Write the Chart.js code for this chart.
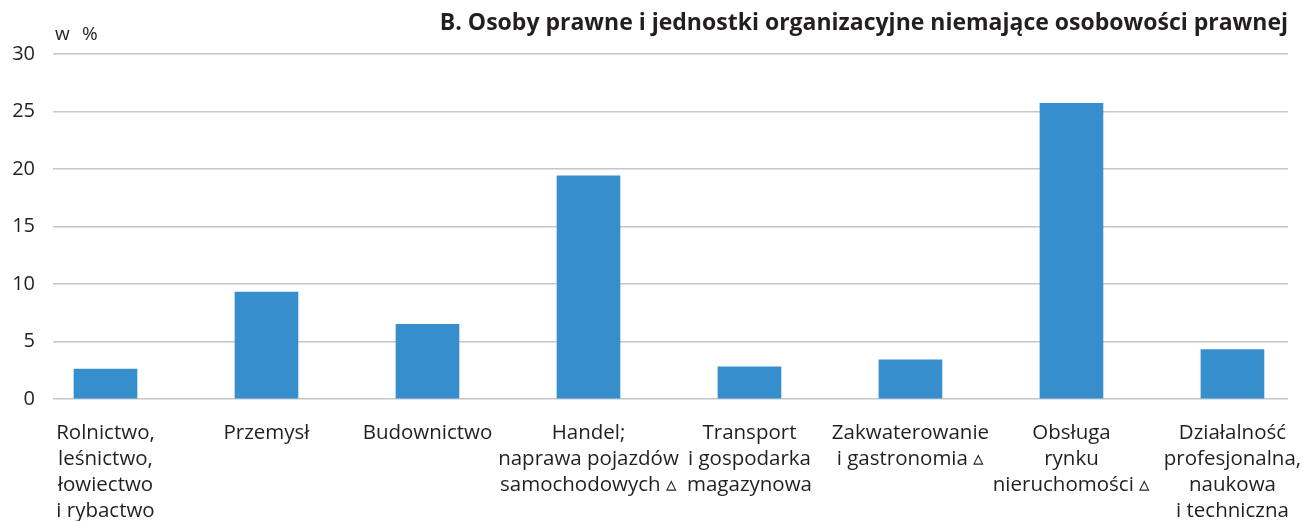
<!DOCTYPE html>
<html>
<head>
<meta charset="utf-8">
<script src="https://cdn.jsdelivr.net/npm/chart.js@4/dist/chart.umd.min.js"></script>
<style>
  html, body { margin: 0; padding: 0; background: #ffffff; }
  #wrap { width: 1303px; height: 521px; position: relative; }
</style>
</head>
<body>
<div id="wrap"><canvas id="c"></canvas></div>
<script>
const chartTitle = "B. Osoby prawne i jednostki organizacyjne niemające osobowości prawnej";
const unitLabel = ["w", "%"];
const categories = [
  ["Rolnictwo,", "leśnictwo,", "łowiectwo", "i rybactwo"],
  ["Przemysł"],
  ["Budownictwo"],
  ["Handel;", "naprawa pojazdów", "samochodowych \u25B5"],
  ["Transport", "i gospodarka", "magazynowa"],
  ["Zakwaterowanie", "i gastronomia \u25B5"],
  ["Obsługa", "rynku", "nieruchomości \u25B5"],
  ["Działalność", "profesjonalna,", "naukowa", "i techniczna"]
];
const values = [2.6, 9.3, 6.5, 19.4, 2.8, 3.4, 25.7, 4.3];
const yMin = 0, yMax = 30, yStep = 5;

const FONT = "'Open Sans', 'Liberation Sans', sans-serif";
const TEXT = "#231f20";

const unitPlugin = {
  id: 'unitLabel',
  afterDraw(chart) {
    const ctx = chart.ctx;
    ctx.save();
    ctx.font = "19px " + FONT;
    ctx.fillStyle = TEXT;
    ctx.textAlign = "left";
    ctx.textBaseline = "alphabetic";
    ctx.fillText(unitLabel[0], 55, 40);
    ctx.fillText(unitLabel[1], 82, 40);
    ctx.restore();
  }
};

new Chart(document.getElementById('c'), {
  type: 'bar',
  data: {
    datasets: [{
      data: values.map((v, i) => ({ x: i, y: v })),
      backgroundColor: '#378ecd',
      borderWidth: 0,
      barThickness: 63
    }]
  },
  options: {
    responsive: true,
    maintainAspectRatio: false,
    animation: false,
    layout: { padding: { left: 0, right: 15, top: 0, bottom: 0 } },
    plugins: {
      legend: { display: false },
      tooltip: { enabled: false },
      title: {
        display: true,
        text: chartTitle,
        align: 'end',
        color: TEXT,
        font: { family: FONT, size: 23, weight: 'bold', lineHeight: 1.2 },
        padding: { top: 10, bottom: 16.4 }
      }
    },
    scales: {
      x: {
        type: 'linear',
        min: -0.326,
        max: 7.345,
        offset: false,
        grid: { display: false },
        border: { display: false },
        afterBuildTicks(scale) {
          scale.ticks = categories.map((_, i) => ({ value: i }));
        },
        afterFit(scale) {
          scale.paddingLeft = 0;
          scale.paddingRight = 0;
          scale.height = 122;
        },
        ticks: {
          autoSkip: false,
          maxRotation: 0,
          minRotation: 0,
          padding: 13,
          color: TEXT,
          font: { family: FONT, size: 20.5, lineHeight: 26 / 20.5 },
          callback: (v) => categories[v] || ''
        }
      },
      y: {
        min: yMin,
        max: yMax,
        afterFit(scale) { scale.width = 53; },
        grid: { color: '#c6c6c6', lineWidth: 1.6, drawTicks: false },
        border: { display: false },
        ticks: {
          stepSize: yStep,
          padding: 18,
          color: TEXT,
          font: { family: FONT, size: 20 }
        }
      }
    }
  },
  plugins: [unitPlugin]
});
</script>
</body>
</html>
